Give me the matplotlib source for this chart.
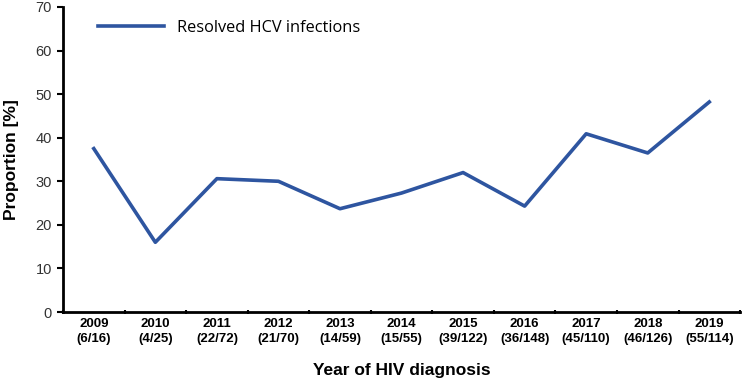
import matplotlib
matplotlib.use("Agg")
import matplotlib.pyplot as plt
import numpy as np

years = ["2009", "2010", "2011", "2012", "2013", "2014", "2015", "2016", "2017", "2018", "2019"]
counts = ["(6/16)", "(4/25)", "(22/72)", "(21/70)", "(14/59)", "(15/55)", "(39/122)", "(36/148)", "(45/110)", "(46/126)", "(55/114)"]
proportion = [37.5, 16.0, 30.6, 30.0, 23.7, 27.3, 32.0, 24.3, 40.9, 36.5, 48.2]
series_name = "Resolved HCV infections"

fig = plt.figure(figsize=(7.44, 3.86), dpi=100)
ax = fig.add_axes([0.0847, 0.1917, 0.9100, 0.7902])

x = np.arange(len(years))
ax.plot(x, proportion, color="#2E55A0", lw=2.6, label=series_name)

ax.set_xlim(-0.5, len(years) - 0.5)
ax.set_ylim(0, 70)
ax.set_yticks(range(0, 71, 10))
ax.set_xticks(x)
ax.set_xticklabels([f"{y}\n{c}" for y, c in zip(years, counts)],
                   fontfamily="Liberation Sans", fontweight="bold", fontsize=9.5, linespacing=1.4)
ax.set_xticks(np.arange(-0.5, len(years), 1), minor=True)
ax.tick_params(axis="x", which="major", length=0, pad=4)
ax.tick_params(axis="x", which="minor", length=3, width=1.5, direction="inout")
ax.tick_params(axis="y", length=4, width=1.5, direction="out", labelsize=10.5, pad=4)
for lab in ax.get_yticklabels():
    lab.set_fontfamily("Liberation Sans")
    lab.set_color("#333333")

for s in ["top", "right"]:
    ax.spines[s].set_visible(False)
for s in ["left", "bottom"]:
    ax.spines[s].set_linewidth(2)

ax.set_ylabel("Proportion [%]", fontfamily="Liberation Sans", fontweight="bold", fontsize=12.5, labelpad=12)
ax.set_xlabel("Year of HIV diagnosis", fontfamily="Liberation Sans", fontweight="bold", fontsize=12.5, labelpad=13)

leg = ax.legend(loc="upper left", frameon=False, prop={"family": "Open Sans", "size": 11.8},
                handlelength=4.0, handletextpad=0.8, bbox_to_anchor=(0.035, 0.995), borderaxespad=0.3)

fig.savefig("out.png", dpi=100)
